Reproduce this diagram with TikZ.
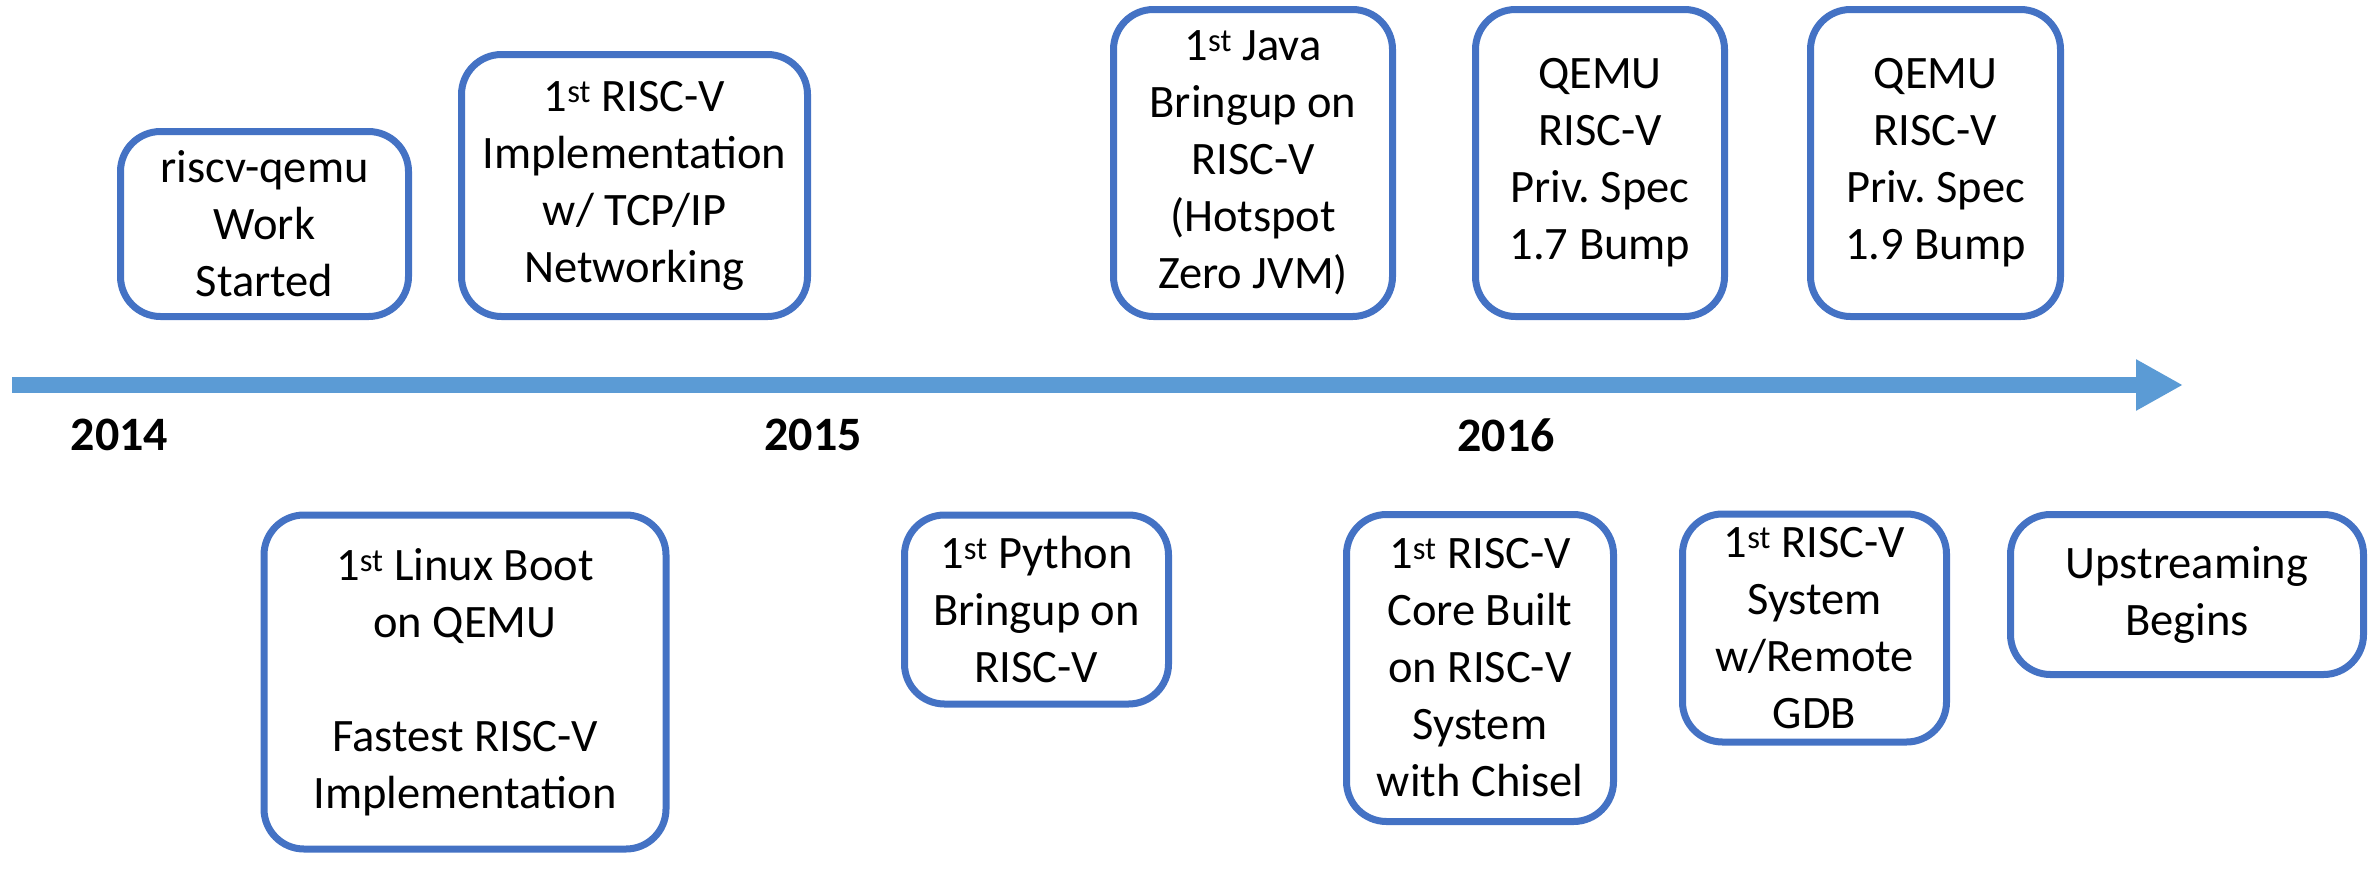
\documentclass[tikz,border=0pt]{standalone}
\usepackage{fontspec}
\setmainfont{Carlito}
\usetikzlibrary{arrows.meta}
\definecolor{boxBlue}{HTML}{4472C4}
\definecolor{lineBlue}{HTML}{5B9BD5}
\newcommand{\boxFont}{\fontsize{46.5}{57}\selectfont\frenchspacing}
\newcommand{\yearFont}{\fontsize{48}{56}\selectfont\bfseries}
\newcommand{\ordSt}{\textsuperscript{st}}
\newcommand{\boxLineWidth}{7pt}

\begin{document}
\begin{tikzpicture}[x=1pt, y=-1pt,
  eventBox/.style={draw=boxBlue, line width=\boxLineWidth, rounded corners=40pt,
    fill=white, align=center, inner sep=0pt, font=\boxFont},
  yearLabel/.style={font=\yearFont, inner sep=0pt}]
\useasboundingbox (0,0) rectangle (2374,871);

% timeline
\coordinate (tlStart) at (12,385);
\coordinate (tlEnd) at (2183,385);
\draw[lineBlue, line width=16pt, -{Triangle[length=47pt,width=48pt]}] (tlStart) -- (tlEnd);

\node[yearLabel] (yearA) at (119.5,435) {2014};
\node[yearLabel] (yearB) at (813,435) {2015};
\node[yearLabel] (yearC) at (1506,435) {2016};

% above the line
\node[eventBox, minimum width=288pt, minimum height=185pt] (qemuWork) at (264.5,224) {riscv-qemu\\Work\\Started};
\node[eventBox, minimum width=346pt, minimum height=262pt] (tcpIp) at (634.5,185.5) {1\ordSt{} RISC-V\\Implementation\\w/ TCP/IP\\Networking};
\node[eventBox, minimum width=279pt, minimum height=307pt] (javaUp) at (1253,163) {1\ordSt{} Java\\Bringup on\\RISC-V\\(Hotspot\\Zero JVM)};
\node[eventBox, minimum width=249pt, minimum height=307pt] (specSeven) at (1600,163) {QEMU\\RISC-V\\Priv. Spec\\1.7 Bump};
\node[eventBox, minimum width=250pt, minimum height=307pt] (specNine) at (1935.5,163) {QEMU\\RISC-V\\Priv. Spec\\1.9 Bump};

% below the line
\node[eventBox, minimum width=402pt, minimum height=334pt] (linuxBoot) at (465,682) {1\ordSt{} Linux Boot\\on QEMU\\[57pt]Fastest RISC-V\\Implementation};
\node[eventBox, minimum width=264pt, minimum height=189pt] (pythonUp) at (1036.5,609.5) {1\ordSt{} Python\\Bringup on\\RISC-V};
\node[eventBox, minimum width=267pt, minimum height=307pt] (chiselCore) at (1480,668) {1\ordSt{} RISC-V\\Core Built\\on RISC-V\\System\\with Chisel};
\node[eventBox, minimum width=264pt, minimum height=228pt] (remoteGdb) at (1814.5,628) {1\ordSt{} RISC-V\\System\\w/Remote\\GDB};
\node[eventBox, minimum width=353pt, minimum height=160pt] (upstream) at (2187,594.5) {Upstreaming\\Begins};
\end{tikzpicture}
\end{document}
